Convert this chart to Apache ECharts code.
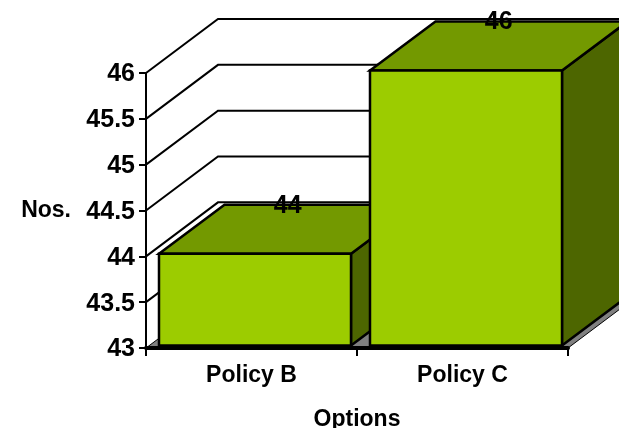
<!DOCTYPE html>
<html>
<head>
<meta charset="utf-8">
<style>html,body{margin:0;padding:0;background:#fff}#chart{width:619px;height:428px}</style>
<script src="https://cdn.jsdelivr.net/npm/echarts@6/dist/echarts.min.js"></script>
</head>
<body>
<div id="chart"></div>
<script>
// Policy counts shown as a pseudo-3D column chart
const categories = ['Policy B', 'Policy C'];
const values = [44, 46];
const axisTicks = [43, 43.5, 44, 44.5, 45, 45.5, 46];
const axisName = 'Nos.';
const categoryName = 'Options';

// Projection of the chart box and of the columns
const WALL_DX = 72, WALL_DY = -54;
const BAR_DX = 65.5, BAR_DY = -49;
const BAR_RATIO = 0.91, BAR_SHIFT_X = 3.5, BAR_SHIFT_Y = -2.5;
const EDGE = { stroke: '#000', lineWidth: 2.5, lineJoin: 'miter' };
const FAMILY = '"Liberation Sans", Arial, sans-serif';
const LABEL_FONT = 'bold 25px ' + FAMILY;

function poly(points, fill) {
  return { type: 'polygon', shape: { points }, style: Object.assign({ fill }, EDGE) };
}

const chart = echarts.init(document.getElementById('chart'), null, { renderer: 'canvas' });
chart.setOption({
  animation: false,
  backgroundColor: '#fff',
  grid: { left: 146, top: 73, right: 51, bottom: 80, outerBoundsMode: 'none' },
  xAxis: {
    type: 'category',
    z: 6,
    data: categories,
    name: categoryName,
    nameLocation: 'middle',
    nameGap: 60,
    nameTextStyle: { color: '#000', fontWeight: 'bold', fontSize: 23, fontFamily: FAMILY },
    axisLine: { lineStyle: { color: '#000', width: 4 } },
    axisTick: { show: true, length: 8, lineStyle: { color: '#000', width: 2 } },
    axisLabel: { color: '#000', fontWeight: 'bold', fontSize: 23, fontFamily: FAMILY, margin: 16 },
    splitLine: { show: false }
  },
  yAxis: {
    type: 'value',
    z: 6,
    min: axisTicks[0],
    max: axisTicks[axisTicks.length - 1],
    interval: axisTicks[1] - axisTicks[0],
    name: axisName,
    nameLocation: 'middle',
    nameRotate: 0,
    nameGap: 75,
    nameTextStyle: { color: '#000', fontWeight: 'bold', fontSize: 23, fontFamily: FAMILY },
    axisLine: { show: true, onZero: false, lineStyle: { color: '#000', width: 2 } },
    axisTick: { show: true, length: 7, lineStyle: { color: '#000', width: 2 } },
    axisLabel: {
      color: '#000', fontWeight: 'bold', fontSize: 25, fontFamily: FAMILY, margin: 11,
      verticalAlign: 'top', padding: [-11, 0, 0, 0]
    },
    splitLine: { show: false }
  },
  series: [
    {
      // Floor of the box
      type: 'custom',
      coordinateSystem: 'cartesian2d',
      z: 1,
      silent: true,
      data: [[0, axisTicks[0]]],
      renderItem(params) {
        const sys = params.coordSys;
        const y = sys.y + sys.height;
        const x0 = sys.x, x1 = sys.x + sys.width;
        return {
          type: 'polygon',
          shape: { points: [[x0, y], [x1, y], [x1 + WALL_DX, y + WALL_DY], [x0 + WALL_DX, y + WALL_DY]] },
          style: { fill: '#808080', stroke: '#000', lineWidth: 1 }
        };
      }
    },
    {
      // Gridlines running up the side wall and along the back wall
      type: 'custom',
      coordinateSystem: 'cartesian2d',
      z: 2,
      silent: true,
      data: axisTicks.slice(1).map(t => [0, t]),
      renderItem(params, api) {
        const sys = params.coordSys;
        const y = api.coord([0, api.value(1)])[1];
        const x0 = sys.x;
        return {
          type: 'polyline',
          shape: { points: [[x0, y], [x0 + WALL_DX, y + WALL_DY], [sys.x + sys.width + WALL_DX, y + WALL_DY]] },
          style: { fill: null, stroke: '#000', lineWidth: 2 }
        };
      }
    },
    {
      // Columns: front, top and side faces, with the value on the top face
      type: 'custom',
      coordinateSystem: 'cartesian2d',
      z: 3,
      silent: true,
      data: categories.map((c, i) => [i, values[i]]),
      renderItem(params, api) {
        const value = api.value(1);
        const top = api.coord([api.value(0), value]);
        const base = api.coord([api.value(0), axisTicks[0]]);
        const w = api.size([1, 0])[0] * BAR_RATIO;
        const l = top[0] + BAR_SHIFT_X - w / 2, r = l + w;
        const t = top[1] + BAR_SHIFT_Y, b = base[1] + BAR_SHIFT_Y;
        return {
          type: 'group',
          children: [
            poly([[r, t], [r + BAR_DX, t + BAR_DY], [r + BAR_DX, b + BAR_DY], [r, b]], '#4D6600'),
            poly([[l, t], [l + BAR_DX, t + BAR_DY], [r + BAR_DX, t + BAR_DY], [r, t]], '#739900'),
            poly([[l, t], [r, t], [r, b], [l, b]], '#9CCC00'),
            {
              type: 'text',
              z2: 5,
              style: {
                text: String(value),
                x: (l + r) / 2 + BAR_DX / 2,
                y: t + BAR_DY + 1,
                align: 'center',
                verticalAlign: 'middle',
                font: LABEL_FONT,
                fill: '#000'
              }
            }
          ]
        };
      }
    }
  ]
});
</script>
</body>
</html>
